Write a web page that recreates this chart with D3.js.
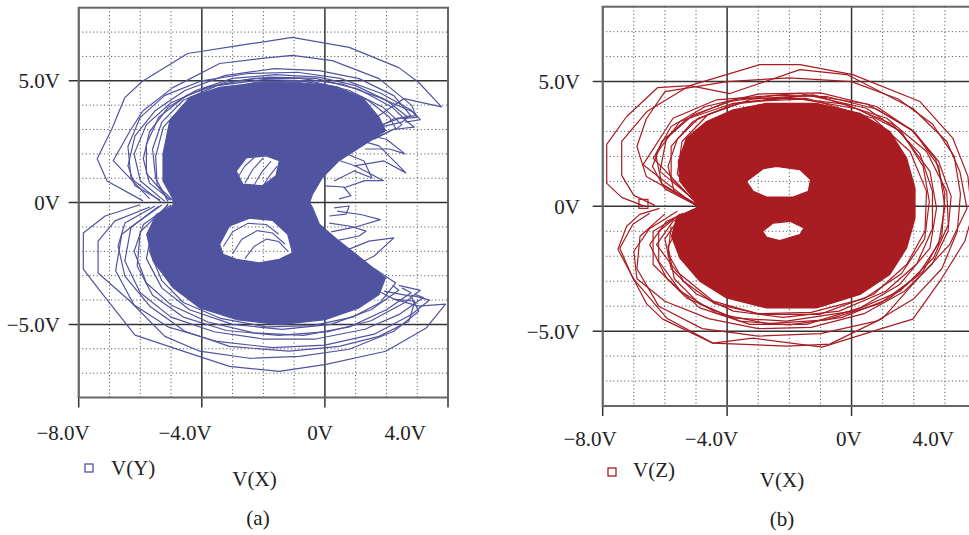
<!DOCTYPE html>
<html><head><meta charset="utf-8">
<script src="https://cdn.jsdelivr.net/npm/d3@7"></script>
<style>
body{margin:0;background:#fff}
svg{display:block}
text{font-family:"Liberation Serif","DejaVu Serif",serif;font-size:21px;fill:#222}
</style>
</head><body><svg id="c" width="969" height="535"></svg>
<script>
// ---------- data ----------
const xTicks = [-8, -4, 0, 4];
const xTickLabels = ["\u22128.0V", "\u22124.0V", "0V", "4.0V"];
const yTicks = [5, 0, -5];
const yTickLabels = ["5.0V", "0V", "\u22125.0V"];
const minorX = [-7, -6, -5, -3, -2, -1, 1, 2, 3];
const minorY = [-7, -6, -4, -3, -2, -1, 1, 2, 3, 4, 6, 7];
const seriesNames = ["V(Y)", "V(Z)"];
const xAxisTitle = "V(X)";
const panelTags = ["(a)", "(b)"];

// panel (a): V(Y) vs V(X) — dense core outline (volts)
const denseA = [[-4.93,0.14],[-5.26,0.89],[-5.26,1.99],[-5.04,3.36],[-4.39,4.32],[-3.42,4.73],[-2.02,4.94],[-0.94,4.94],[0.14,4.80],[1.22,4.32],[1.76,3.50],[1.97,2.95],[1.22,2.33],[0.46,1.72],[-0.08,1.03],[-0.40,0.35],[-0.50,0],[-0.40,-0.21],[-0.18,-0.89],[0.46,-1.58],[1.22,-2.33],[1.97,-3.09],[1.76,-3.77],[1.11,-4.32],[0.03,-4.80],[-1.48,-5.01],[-2.88,-4.80],[-4.07,-4.32],[-4.93,-3.50],[-5.58,-2.40],[-5.79,-1.30],[-5.47,-0.48],[-4.93,-0.14]];
const holesA = [
  [[-2.88,1.30],[-2.56,1.83],[-1.91,1.92],[-1.48,1.72],[-1.59,1.10],[-2.02,0.69],[-2.67,0.76]],
  [[-3.42,-1.71],[-3.10,-0.96],[-2.45,-0.64],[-1.70,-0.73],[-1.21,-1.30],[-1.05,-2.06],[-1.48,-2.33],[-2.13,-2.47],[-2.88,-2.33],[-3.31,-2.12]]
];
const streaksA = [
  [[-2.85,1.0],[-2.6,1.5],[-2.3,1.85]],
  [[-2.6,0.8],[-2.35,1.35],[-2.0,1.85]],
  [[-2.3,0.72],[-2.05,1.25],[-1.75,1.7]],
  [[-2.0,0.7],[-1.8,1.1],[-1.55,1.5]],
  [[-3.3,-1.8],[-3.0,-1.2],[-2.5,-0.85],[-1.9,-0.9],[-1.5,-1.3]],
  [[-3.0,-2.1],[-2.7,-1.5],[-2.2,-1.15],[-1.7,-1.25],[-1.3,-1.7]],
  [[-2.6,-2.3],[-2.3,-1.8],[-1.9,-1.5],[-1.5,-1.6],[-1.2,-2.0]]
];
const loopsA = [
  [[-5.91,0.07],[-7.08,0.89],[-7.40,1.80],[-6.92,3.03],[-6.50,4.31],[-5.94,4.97],[-4.46,6.12],[-2.77,6.45],[-1.06,6.78],[0.79,6.37],[2.40,5.54],[3.05,4.93],[3.79,3.93],[2.57,4.27],[1.60,3.44],[0.79,2.54]],
  [[-5.69,0.15],[-6.88,1.72],[-6.33,2.95],[-5.91,3.77],[-4.94,4.72],[-3.42,5.71],[-2.13,5.91],[-1.06,6.04],[0.24,5.83],[1.76,5.09],[2.83,3.98],[2.95,3.57],[2.24,3.44],[1.27,2.74]],
  [[-5.36,0.11],[-6.17,0.69],[-6.40,1.51],[-6.17,2.74],[-5.52,3.77],[-4.55,4.60],[-3.26,5.21],[-1.64,5.50],[-0.18,5.42],[1.11,5.09],[2.24,4.39],[2.79,3.57],[2.40,3.44],[1.76,3.16]],
  [[-5.0,0.1],[-5.7,0.8],[-5.9,1.8],[-5.7,2.9],[-5.1,3.9],[-4.2,4.6],[-3.0,5.1],[-1.6,5.25],[-0.2,5.15],[1.0,4.8],[2.0,4.2],[2.7,3.5],[2.5,3.3],[1.8,3.1]],
  [[-5.1,0.05],[-5.5,1.0],[-5.6,2.2],[-5.3,3.3],[-4.6,4.2],[-3.5,4.8],[-2.0,5.05],[-0.5,5.0],[0.8,4.6],[1.9,3.9],[2.5,3.2],[2.3,3.0]],
  [[-5.2,0.05],[-6.0,0.9],[-6.2,2.0],[-5.8,3.2],[-5.0,4.1],[-3.8,4.75],[-2.3,5.1],[-0.8,5.1],[0.6,4.85],[1.8,4.3],[2.9,3.7],[3.1,3.4],[2.6,3.3]],
  [[-4.9,0.05],[-5.45,0.7],[-5.5,1.9],[-5.25,3.1],[-4.6,4.0],[-3.6,4.6],[-2.2,4.95],[-0.8,5.0],[0.4,4.75],[1.4,4.2],[2.1,3.5],[2.3,3.05],[1.6,2.6]],
  [[-5.05,0.1],[-5.8,1.2],[-5.8,2.4],[-5.4,3.5],[-4.5,4.4],[-3.2,4.95],[-1.8,5.15],[-0.3,5.1],[1.1,4.65],[2.2,3.9],[2.7,3.3],[2.9,3.1],[2.2,3.0],[1.4,2.5]],
  [[-5.3,0.0],[-6.3,1.0],[-6.4,2.3],[-6.0,3.5],[-5.2,4.4],[-4.0,5.0],[-2.5,5.3],[-0.9,5.35],[0.5,5.1],[1.8,4.5],[2.8,3.8],[3.0,3.5],[2.5,3.45]],
  [[-6.01,-0.09],[-7.14,-0.55],[-7.85,-1.25],[-7.85,-2.73],[-7.30,-3.63],[-6.17,-5.44],[-4.39,-6.19],[-3.10,-6.72],[-1.48,-6.93],[0.04,-6.64],[1.98,-6.10],[3.28,-5.16],[3.92,-4.17],[3.05,-4.25],[2.24,-3.96],[1.43,-3.43]],
  [[-5.69,-0.18],[-6.82,-0.75],[-7.37,-1.58],[-7.37,-2.89],[-6.33,-4.05],[-5.20,-5.49],[-4.07,-6.10],[-2.45,-6.39],[-0.83,-6.31],[0.79,-6.02],[2.24,-5.28],[3.05,-4.46],[2.79,-3.84],[1.92,-3.63]],
  [[-5.52,-0.14],[-6.50,-0.84],[-6.72,-1.78],[-6.50,-3.02],[-5.69,-4.25],[-4.55,-5.28],[-3.10,-5.90],[-1.16,-6.10],[0.46,-5.90],[1.76,-5.49],[2.73,-4.87],[2.92,-4.05],[2.24,-3.96]],
  [[-5.0,-0.1],[-5.9,-0.9],[-6.2,-2.0],[-5.8,-3.3],[-5.0,-4.2],[-3.8,-4.9],[-2.3,-5.35],[-0.7,-5.45],[0.8,-5.1],[2.0,-4.4],[2.8,-3.7],[2.5,-3.5]],
  [[-5.1,-0.05],[-5.6,-1.0],[-5.8,-2.3],[-5.3,-3.5],[-4.4,-4.4],[-3.0,-5.0],[-1.4,-5.2],[0.2,-5.0],[1.5,-4.4],[2.4,-3.6],[2.2,-3.4]],
  [[-5.3,-0.1],[-6.3,-1.0],[-6.5,-2.4],[-6.0,-3.7],[-5.0,-4.7],[-3.6,-5.3],[-2.0,-5.6],[-0.3,-5.6],[1.3,-5.2],[2.4,-4.6],[3.2,-3.9],[2.9,-3.75]],
  [[-4.9,-0.05],[-5.5,-0.8],[-5.7,-2.0],[-5.3,-3.2],[-4.6,-4.1],[-3.4,-4.75],[-1.9,-5.1],[-0.4,-5.05],[0.9,-4.7],[1.8,-4.1],[2.3,-3.3],[1.6,-2.7]],
  [[-5.1,-0.1],[-6.0,-1.2],[-6.1,-2.6],[-5.6,-3.8],[-4.6,-4.7],[-3.2,-5.25],[-1.5,-5.45],[0.1,-5.3],[1.5,-4.85],[2.6,-4.1],[3.1,-3.6],[2.4,-3.4]],
  [[-5.4,-0.15],[-6.6,-1.3],[-6.8,-2.8],[-6.2,-4.2],[-5.1,-5.1],[-3.5,-5.7],[-1.7,-5.95],[0.0,-5.85],[1.6,-5.4],[2.8,-4.6],[3.4,-4.0],[2.8,-3.8]],
  [[0.63,2.74],[1.76,2.33],[2.63,1.22],[1.92,1.71],[0.95,1.51]],
  [[0.46,2.13],[1.27,1.71],[1.53,1.01],[0.95,1.30],[0.30,0.89]],
  [[-0.02,0.69],[0.62,0.64],[0.85,0.28],[0.46,0.15]],
  [[0.3,1.8],[1.0,1.5],[1.9,0.9],[1.3,0.9],[0.6,0.6]],
  [[0.9,2.9],[2.0,2.6],[2.6,2.0],[2.1,2.2],[1.3,2.2]],
  [[0.63,-2.81],[1.60,-2.19],[2.24,-1.45],[1.43,-1.58],[0.63,-1.99]],
  [[0.30,-1.58],[1.11,-1.37],[1.34,-1.17],[0.79,-0.96],[0.14,-0.84]],
  [[0.14,-0.55],[0.69,-0.47],[0.79,-0.14],[0.30,-0.22]],
  [[0.2,-1.2],[1.0,-1.0],[1.8,-0.7],[1.2,-0.5],[0.4,-0.35]]
];

// panel (b): V(Z) vs V(X)
const denseB = [[-4.88,0],[-5.52,1.0],[-5.57,1.8],[-5.31,2.73],[-4.66,3.4],[-3.81,3.87],[-2.73,4.13],[-1.13,4.13],[0.27,3.73],[1.23,3.0],[1.77,1.93],[2.04,0.73],[2.04,-0.47],[1.77,-1.67],[1.23,-2.73],[0.27,-3.53],[-1.13,-4.07],[-2.73,-4.07],[-4.02,-3.67],[-4.88,-3.0],[-5.52,-2.07],[-5.79,-1.2],[-5.63,-0.47],[-5.0,-0.07]];
const holesB = [
  [[-3.38,1.0],[-2.84,1.51],[-2.41,1.6],[-1.66,1.47],[-1.32,1.07],[-1.39,0.6],[-1.88,0.37],[-2.73,0.37],[-3.16,0.6]],
  [[-2.86,-1.0],[-2.52,-0.67],[-1.98,-0.6],[-1.53,-0.87],[-1.66,-1.13],[-2.31,-1.37],[-2.73,-1.24]]
];
const loopsB = [
  [[-6.65,0],[-7.39,0.36],[-7.87,0.92],[-7.87,2.48],[-7.23,3.6],[-6.23,4.76],[-5.20,4.84],[-2.95,5.68],[-1.66,5.68],[0.04,5.28],[2.20,4.2],[3.26,2.72],[3.74,1.2],[3.87,-0.4],[3.64,-1.4],[2.84,-3.0],[1.97,-4.52],[1.01,-4.88],[-0.95,-5.64],[-3.17,-5.28],[-4.46,-5.48],[-6.07,-4.52],[-6.58,-3.92],[-7.51,-1.72],[-7.23,-0.8],[-6.81,-0.32],[-6.17,-0.08]],
  [[-6.32,0.04],[-7.0,0.44],[-7.39,1.24],[-7.39,2.6],[-6.58,3.8],[-5.20,4.84],[-3.91,4.52],[-1.66,5.48],[-0.15,5.28],[1.97,3.92],[3.06,2.6],[3.48,1.4],[3.71,-0.08],[3.16,-1.52],[1.97,-3.12],[1.01,-4.48],[-0.70,-5.52],[-2.08,-5.6],[-4.46,-5.48],[-5.94,-4.48],[-7.03,-2.88],[-7.45,-1.68],[-7.03,-0.72],[-6.49,-0.28]],
  [[-4.98,0],[-6.70,1.67],[-5.74,3.53],[-4.34,4.27],[-1.66,4.53],[0.48,3.93],[1.55,3.0],[2.52,1.4],[2.73,-0.07],[2.52,-1.67],[1.55,-3.13],[0.27,-4.07],[-1.45,-4.73],[-3.27,-4.73],[-4.88,-4.07],[-5.95,-2.87],[-6.49,-1.53],[-5.95,-0.6],[-5.09,-0.13]],
  [[-4.88,0.07],[-6.16,1.4],[-5.95,2.73],[-5.09,3.67],[-3.59,4.33],[-1.45,4.33],[0.70,3.53],[1.88,2.2],[2.41,0.6],[2.36,-1.0],[1.77,-2.33],[0.70,-3.53],[-1.02,-4.33],[-2.95,-4.33],[-4.45,-3.8],[-5.63,-2.6],[-6.27,-1.53],[-5.74,-0.6],[-4.88,-0.13]],
  [[-4.88,0],[-6.38,1.93],[-5.52,3.4],[-3.81,4.13],[-1.23,4.47],[1.13,3.53],[2.41,2.2],[3.06,0.6],[3.11,-0.73],[2.63,-2.07],[1.55,-3.4],[0.05,-4.2],[-2.09,-4.6],[-3.81,-4.47],[-5.31,-3.67],[-6.38,-2.33],[-6.38,-1.0],[-5.41,-0.27]],
  [[-5.0,0.05],[-6.0,0.7],[-6.4,1.6],[-6.1,2.6],[-5.3,3.5],[-4.0,4.2],[-2.4,4.45],[-0.8,4.4],[0.8,3.9],[2.0,3.0],[2.8,1.8],[3.2,0.4],[3.1,-1.0],[2.6,-2.3],[1.7,-3.4],[0.4,-4.3],[-1.3,-4.85],[-3.0,-4.9],[-4.6,-4.5],[-6.0,-3.8],[-6.9,-2.9],[-7.0,-1.8],[-6.5,-0.9],[-5.6,-0.2]],
  [[-4.9,0.0],[-6.6,1.2],[-6.9,2.4],[-6.6,3.5],[-6.0,4.6],[-4.0,5.0],[-2.0,5.15],[0.0,5.0],[1.5,4.3],[2.6,3.3],[3.3,2.0],[3.5,0.5],[3.4,-1.0],[2.9,-2.5],[2.0,-3.7],[0.8,-4.6],[-1.0,-5.1],[-3.0,-5.2],[-4.8,-4.9],[-6.2,-4.0],[-6.9,-2.5],[-6.8,-1.2],[-6.0,-0.3]],
  [[-4.9,0.05],[-5.8,1.1],[-5.8,2.4],[-5.1,3.4],[-3.8,4.1],[-2.0,4.35],[-0.2,4.1],[1.3,3.3],[2.2,2.1],[2.6,0.6],[2.6,-0.9],[2.1,-2.3],[1.1,-3.4],[-0.4,-4.2],[-2.2,-4.45],[-3.8,-4.2],[-5.0,-3.5],[-5.8,-2.5],[-6.0,-1.3],[-5.5,-0.4]],
  [[-4.9,0.0],[-6.1,0.9],[-6.3,2.1],[-5.8,3.2],[-4.7,4.0],[-3.0,4.5],[-1.0,4.55],[0.8,4.0],[2.0,3.0],[2.8,1.6],[3.0,0.0],[2.8,-1.5],[2.1,-2.8],[0.9,-3.9],[-0.8,-4.55],[-2.7,-4.7],[-4.3,-4.3],[-5.5,-3.4],[-6.2,-2.2],[-6.2,-1.0],[-5.5,-0.3]],
  [[-5.0,0.1],[-5.7,0.6],[-5.9,1.6],[-5.6,2.7],[-4.9,3.55],[-3.4,4.2],[-1.6,4.3],[0.2,3.9],[1.6,3.0],[2.3,1.6],[2.5,0.2],[2.35,-1.3],[1.6,-2.7],[0.4,-3.7],[-1.3,-4.25],[-3.0,-4.3],[-4.4,-3.9],[-5.4,-3.0],[-5.9,-1.9],[-5.8,-0.8]],
  [[-4.95,0.05],[-5.6,1.3],[-5.45,2.6],[-4.6,3.7],[-3.2,4.3],[-1.3,4.45],[0.5,4.1],[1.9,3.1],[2.7,1.9],[3.0,0.5],[2.9,-1.2],[2.3,-2.6],[1.2,-3.7],[-0.3,-4.45],[-2.0,-4.75],[-3.6,-4.6],[-4.9,-3.9],[-5.7,-2.9],[-5.9,-1.6],[-5.4,-0.5]]
];
const markerB = [[-6.69, 0.1]];

// ---------- drawing ----------
const svg = d3.select("#c");
const panels = [
  {x0:78.7, x1:448, yb:397.5, yt:7.7, color:"#5054a0", dense:denseA, holes:holesA, loops:loopsA, streaks:streaksA, marker:[],
   legSq:[85,464], legText:[111,475], title:[254.5,486], tag:[258,525], tickLabelY:440, xdx:[11,10,8,-22], name:seriesNames[0], tagText:panelTags[0], yLabRight:60},
  {x0:602.7, x1:976, yb:406, yt:6.7, color:"#a81c22", dense:denseB, holes:holesB, loops:loopsB, streaks:[], marker:markerB,
   legSq:[608,468], legText:[633,477], title:[782,487], tag:[782,526], tickLabelY:446, xdx:[14,11,10,-22], name:seriesNames[1], tagText:panelTags[1], yLabRight:580}
];

panels.forEach((p,i)=>{
  const x = d3.scaleLinear().domain([-8,4]).range([p.x0,p.x1]);
  const y = d3.scaleLinear().domain([-8,8]).range([p.yb,p.yt]);
  const g = svg.append("g");
  const cid = "clip"+i;
  svg.append("clipPath").attr("id",cid).append("rect")
    .attr("x",p.x0).attr("y",p.yt).attr("width",p.x1-p.x0).attr("height",p.yb-p.yt);

  g.selectAll(".mx").data(minorX).join("line")
    .attr("x1",d=>x(d)).attr("x2",d=>x(d)).attr("y1",p.yt).attr("y2",p.yb)
    .attr("stroke","#444").attr("stroke-width",1).attr("stroke-dasharray","1,2.6");
  g.selectAll(".my").data(minorY).join("line")
    .attr("y1",d=>y(d)).attr("y2",d=>y(d)).attr("x1",p.x0).attr("x2",p.x1)
    .attr("stroke","#444").attr("stroke-width",1).attr("stroke-dasharray","1,2.6");

  g.selectAll(".Mx").data(xTicks).join("line")
    .attr("x1",d=>x(d)).attr("x2",d=>x(d)).attr("y1",p.yt).attr("y2",p.yb+10)
    .attr("stroke","#333").attr("stroke-width",1.5);
  g.selectAll(".My").data(yTicks).join("line")
    .attr("y1",d=>y(d)).attr("y2",d=>y(d)).attr("x1",p.x0-10).attr("x2",p.x1)
    .attr("stroke","#333").attr("stroke-width",1.5);

  const line = d3.line().x(d=>x(d[0])).y(d=>y(d[1]));
  const dg = g.append("g").attr("clip-path",`url(#${cid})`);
  const dPath = line(p.dense)+"Z"+p.holes.map(h=>line(h)+"Z").join("");
  dg.append("path").attr("d",dPath).attr("fill",p.color).attr("fill-rule","evenodd")
    .attr("stroke",p.color).attr("stroke-width",1.2).attr("stroke-linejoin","round");
  dg.selectAll(".st").data(p.streaks).join("path").attr("d",line)
    .attr("fill","none").attr("stroke",p.color).attr("stroke-width",1.1);
  dg.selectAll(".lp").data(p.loops).join("path").attr("d",line)
    .attr("fill","none").attr("stroke",p.color).attr("stroke-width",1.2).attr("stroke-linejoin","round");
  dg.selectAll(".mk").data(p.marker).join("rect")
    .attr("x",d=>x(d[0])-4.5).attr("y",d=>y(d[1])-4.5).attr("width",9).attr("height",9)
    .attr("fill","none").attr("stroke",p.color).attr("stroke-width",1.2);

  g.append("rect").attr("x",p.x0).attr("y",p.yt).attr("width",p.x1-p.x0).attr("height",p.yb-p.yt)
    .attr("fill","none").attr("stroke","#666").attr("stroke-width",2);

  g.selectAll(".xl").data(xTicks).join("text")
    .attr("x",(d,j)=>x(d)+p.xdx[j]).attr("y",p.tickLabelY).attr("text-anchor","end")
    .text((d,j)=>xTickLabels[j]);
  g.selectAll(".yl").data(yTicks).join("text")
    .attr("x",p.yLabRight).attr("y",d=>y(d)+7.5).attr("text-anchor","end")
    .text((d,j)=>yTickLabels[j]);

  g.append("rect").attr("x",p.legSq[0]).attr("y",p.legSq[1]).attr("width",8).attr("height",8)
    .attr("fill","none").attr("stroke",p.color).attr("stroke-width",1.3);
  g.append("text").attr("x",p.legText[0]).attr("y",p.legText[1]).text(p.name);
  g.append("text").attr("x",p.title[0]).attr("y",p.title[1]).attr("text-anchor","middle").text(xAxisTitle);
  g.append("text").attr("x",p.tag[0]).attr("y",p.tag[1]).attr("text-anchor","middle").text(p.tagText);
});
</script>
</body></html>
